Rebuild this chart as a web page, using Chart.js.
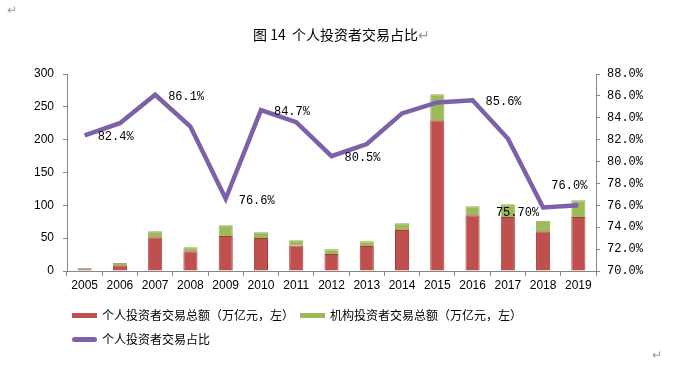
<!DOCTYPE html>
<html>
<head>
<meta charset="utf-8">
<script src="https://cdn.jsdelivr.net/npm/chart.js@4"></script>
<style>
    body { margin: 0; background: #fff; }
    #wrap { position: relative; width: 690px; height: 368px; font-family: "Noto Sans CJK SC", sans-serif; }
    #c { position: absolute; left: 0; top: 0; }
    .mark { position: absolute; color: #999; font-size: 12px; line-height: 12px; }
    #title { position: absolute; left: 253px; top: 26px; font-size: 14px; line-height: 16px; color: #000; white-space: nowrap; }
    .leg { position: absolute; font-size: 12px; line-height: 14px; color: #000; white-space: nowrap; }
    .sw { position: absolute; width: 25px; height: 5px; }
</style>
</head>
<body>
<div id="wrap">
    <canvas id="c" width="690" height="368"></canvas>
    <div class="mark" style="left:7px;top:3px;">↵</div>
    <div id="title">图 14&nbsp; 个人投资者交易占比<span style="color:#999">↵</span></div>
    <div id="legend"></div>
    <div class="mark" style="left:652px;top:348px;">↵</div>
</div>
<script>
    // --- дані ---
    const years = ['2005', '2006', '2007', '2008', '2009', '2010', '2011', '2012', '2013', '2014', '2015', '2016', '2017', '2018', '2019'];
    const personalAmount = [2.5, 8.6, 51.3, 30, 53.3, 50.3, 39, 26, 38, 62.4, 229.4, 84.8, 82.2, 60.4, 82.2];
    const institutionAmount = [2.1, 3.6, 9.1, 6, 16.2, 8.6, 7.7, 7, 7.2, 10.2, 39.6, 13.7, 19.3, 16.2, 25.4];
    const personalShare = [82.4, 83.5, 86.1, 83.2, 76.6, 84.7, 83.6, 80.5, 81.6, 84.4, 85.4, 85.6, 82.1, 75.8, 76.0];
    const shareLabels = ['82.4%', null, '86.1%', null, '76.6%', '84.7%', null, '80.5%', null, null, null, '85.6%', null, '75.70%', '76.0%'];
    const labelSide = ['right', null, 'right', null, 'right', 'right', null, 'right', null, null, null, 'right', null, 'left', 'above'];
    const leftTicks = ['0', '50', '100', '150', '200', '250', '300'];
    const rightTicks = ['70.0%', '72.0%', '74.0%', '76.0%', '78.0%', '80.0%', '82.0%', '84.0%', '86.0%', '88.0%'];

    const RED = '#C0504D';
    const GREEN = '#9BBB59';
    const PURPLE = '#7D60A8';
    const AXIS = '#868686';

    const seriesNames = ['个人投资者交易总额（万亿元，左）', '机构投资者交易总额（万亿元，左）', '个人投资者交易占比'];

    // підписи біля лінії
    const shareLabelPlugin = {
        id: 'shareLabels',
        afterDatasetsDraw(chart) {
            const meta = chart.getDatasetMeta(2);
            const ctx = chart.ctx;
            ctx.save();
            ctx.font = '12px "Liberation Mono", monospace';
            ctx.fillStyle = '#000';
            ctx.textBaseline = 'middle';
            meta.data.forEach((pt, i) => {
                const txt = shareLabels[i];
                if (!txt) return;
                const side = labelSide[i];
                if (side === 'left') {
                    ctx.textAlign = 'right';
                    ctx.fillText(txt, pt.x - 4, pt.y + 5);
                } else if (side === 'above') {
                    ctx.textAlign = 'center';
                    ctx.fillText(txt, pt.x - 9, pt.y - 20);
                } else {
                    ctx.textAlign = 'left';
                    ctx.fillText(txt, pt.x + 13, pt.y + 2);
                }
            });
            ctx.restore();
        }
    };

    const chart = new Chart(document.getElementById('c'), {
        type: 'bar',
        data: {
            labels: years,
            datasets: [
                { label: seriesNames[0], data: personalAmount, backgroundColor: RED, borderColor: '#A53A37', borderWidth: 1, yAxisID: 'y', stack: 's', order: 2, barPercentage: 0.4, categoryPercentage: 1 },
                { label: seriesNames[1], data: institutionAmount, backgroundColor: GREEN, borderColor: '#92B152', borderWidth: 1, yAxisID: 'y', stack: 's', order: 2, barPercentage: 0.4, categoryPercentage: 1 },
                { type: 'line', label: seriesNames[2], data: personalShare, borderColor: PURPLE, borderWidth: 4.5, pointRadius: 0, tension: 0, yAxisID: 'y1', order: 0 }
            ]
        },
        options: {
            responsive: false,
            animation: false,
            devicePixelRatio: 1,
            layout: { padding: { top: 74, left: 0, right: 0, bottom: 0 } },
            plugins: { legend: { display: false }, tooltip: { enabled: false } },
            scales: {
                x: {
                    stacked: true,
                    offset: true,
                    grid: { offset: true, drawOnChartArea: false, color: AXIS, tickLength: 5 },
                    border: { color: AXIS },
                    ticks: { color: '#000', font: { family: '"Liberation Sans", Arial', size: 12 }, padding: 2, maxRotation: 0 },
                    afterFit(s) { s.height = 97; }
                },
                y: {
                    stacked: true,
                    position: 'left',
                    min: 0, max: 300,
                    grid: { drawOnChartArea: false, color: AXIS, tickLength: 4 },
                    border: { color: AXIS },
                    ticks: { stepSize: 50, color: '#000', font: { family: '"Liberation Sans", Arial', size: 12 }, padding: 9,
                        callback: (v, i) => leftTicks[i] },
                    afterFit(s) { s.width = 67; }
                },
                y1: {
                    position: 'right',
                    min: 70, max: 88,
                    grid: { drawOnChartArea: false, color: AXIS, tickLength: 4 },
                    border: { color: AXIS },
                    ticks: { stepSize: 2, color: '#000', font: { family: '"Liberation Mono", monospace', size: 12 }, padding: 7,
                        callback: (v, i) => rightTicks[i] },
                    afterFit(s) { s.width = 94; }
                }
            }
        },
        plugins: [shareLabelPlugin]
    });

    // легенда
    const legendPos = [
        { x: 72, y: 316 },
        { x: 300, y: 316 },
        { x: 72, y: 340 }
    ];
    const legendEl = document.getElementById('legend');
    chart.data.datasets.forEach((ds, i) => {
        const p = legendPos[i];
        const sw = document.createElement('div');
        sw.className = 'sw';
        sw.style.left = p.x + 'px';
        sw.style.top = (p.y - 3) + 'px';
        sw.style.background = ds.type === 'line' ? ds.borderColor : ds.backgroundColor;
        if (ds.type === 'line') sw.style.borderRadius = '3px';
        legendEl.appendChild(sw);
        const t = document.createElement('div');
        t.className = 'leg';
        t.style.left = (p.x + 30) + 'px';
        t.style.top = (p.y - 8) + 'px';
        t.textContent = ds.label;
        legendEl.appendChild(t);
    });
</script>
</body>
</html>
